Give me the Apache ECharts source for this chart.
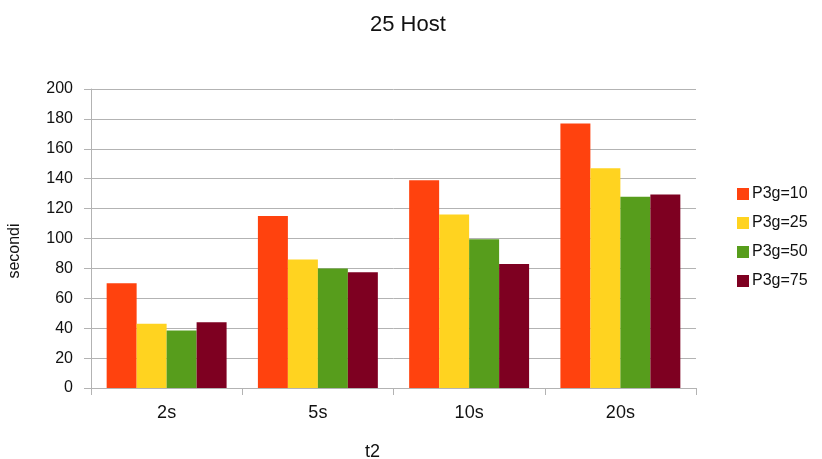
<!DOCTYPE html>
<html>
<head>
<meta charset="utf-8">
<script src="https://cdn.jsdelivr.net/npm/echarts@6/dist/echarts.min.js"></script>
<style>html,body{margin:0;padding:0;background:#fff}#c{width:822px;height:459px}</style>
</head>
<body>
<div id="c"></div>
<script>
const categories = ['2s', '5s', '10s', '20s'];
const seriesNames = ['P3g=10', 'P3g=25', 'P3g=50', 'P3g=75'];
const p3g10 = [70, 115, 139, 177];
const p3g25 = [43, 86, 116, 147];
const p3g50 = [38.5, 80, 99.5, 128];
const p3g75 = [44, 77.5, 83, 129.5];
const colors = ['#ff420e', '#ffd320', '#579d1c', '#7e0021'];

const values = [p3g10, p3g25, p3g50, p3g75];
const font = 'Liberation Sans, Arial, sans-serif';

const chart = echarts.init(document.getElementById('c'), null, { renderer: 'canvas' });
chart.setOption({
  animation: false,
  backgroundColor: '#ffffff',
  title: {
    text: '25 Host',
    left: 365,
    top: 9,
    padding: 5,
    textStyle: { fontFamily: font, fontSize: 22, fontWeight: 'normal', color: '#111' }
  },
  legend: {
    orient: 'vertical',
    left: 732,
    top: 181,
    itemWidth: 12,
    itemHeight: 12,
    itemGap: 13,
    icon: 'rect',
    textStyle: { fontFamily: font, fontSize: 16, color: '#111', padding: [0, 0, 0, -2] },
    data: seriesNames
  },
  grid: { left: 91, right: 126, top: 89, bottom: 71, containLabel: false, outerBoundsMode: 'none' },
  xAxis: {
    type: 'category',
    data: categories,
    name: 't2',
    nameLocation: 'middle',
    nameGap: 55,
    nameTextStyle: { fontFamily: font, fontSize: 18, color: '#111', padding: [0, 42, 0, 0] },
    axisLine: { lineStyle: { color: '#b3b3b3' } },
    axisTick: { show: true, length: 7, lineStyle: { color: '#b3b3b3' } },
    axisLabel: { fontFamily: font, fontSize: 18, color: '#111', margin: 16 }
  },
  yAxis: {
    type: 'value',
    min: 0,
    max: 200,
    interval: 20,
    name: 'secondi',
    nameLocation: 'middle',
    nameGap: 68,
    nameRotate: 90,
    nameTextStyle: { fontFamily: font, fontSize: 16, color: '#111', padding: [0, 25, 0, 0] },
    axisLine: { show: true, lineStyle: { color: '#b3b3b3' } },
    axisTick: { show: true, length: 7, lineStyle: { color: '#b3b3b3' } },
    axisLabel: { fontFamily: font, fontSize: 16, color: '#111', margin: 18 },
    splitLine: { lineStyle: { color: '#b3b3b3' } }
  },
  series: values.map((v, i) => ({
    name: seriesNames[i],
    type: 'bar',
    data: v,
    barGap: '0%',
    barCategoryGap: '20.7%',
    itemStyle: { color: colors[i] }
  }))
});
</script>
</body>
</html>
